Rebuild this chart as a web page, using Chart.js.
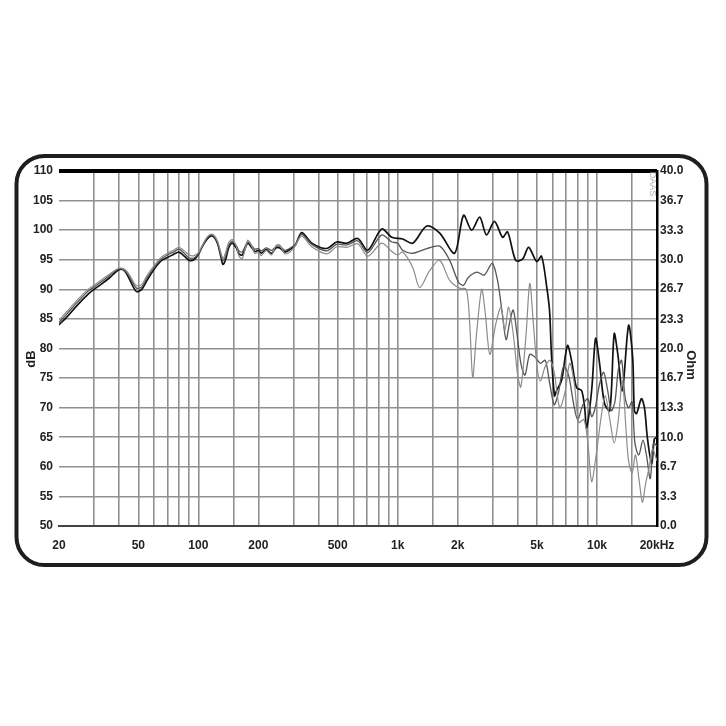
<!DOCTYPE html>
<html>
<head>
<meta charset="utf-8">
<title>Frequency response</title>
<script src="https://cdn.jsdelivr.net/npm/chart.js@4.4.0/dist/chart.umd.min.js"></script>
<style>
    html, body { margin: 0; padding: 0; background: #fff; }
    #wrap { width: 726px; height: 726px; }
</style>
</head>
<body>
<div id="wrap"><canvas id="respChart" width="726" height="726"></canvas></div>
<script>
// Eixo X (Hz) - linhas da grade e rótulos
const gridFreqs = [20, 30, 40, 50, 60, 70, 80, 90, 100, 150, 200, 300, 400, 500, 600, 700, 800, 900,
    1000, 1500, 2000, 3000, 4000, 5000, 6000, 7000, 8000, 9000, 10000, 15000, 20000];
const labelFreqs = [20, 50, 100, 200, 500, 1000, 2000, 5000, 10000, 20000];
const labelTexts = ['20', '50', '100', '200', '500', '1k', '2k', '5k', '10k', '20kHz'];

// Eixo direito (Ohm)
const ohmTicks = [0.0, 3.3, 6.7, 10.0, 13.3, 16.7, 20.0, 23.3, 26.7, 30.0, 33.3, 36.7, 40.0];

// Curva preta
const blackFreq = [20, 22, 25, 28, 30, 33, 36, 39, 41, 43, 45, 47, 49, 52, 55, 60, 65, 70, 75, 80, 85, 90, 95,
    100, 105, 110, 115, 120, 125, 130, 133, 137, 142, 148, 155, 160, 166, 172, 177, 184, 192, 200, 207, 219,
    233, 245, 256, 272, 290, 307, 330, 371, 441, 494, 556, 631, 708, 832, 934, 1060, 1190, 1400, 1625, 1930,
    2140, 2350, 2580, 2790, 3060, 3360, 3560, 3910, 4230, 4540, 4980, 5270, 5590, 5780, 5910, 6120, 6270,
    6640, 7110, 7450, 7890, 8370, 8670, 8870, 9400, 9840, 10300, 10900, 11600, 12200, 12700, 13400, 14400,
    15100, 15400, 15800, 16700, 17300, 17900, 18800, 19400, 20000];
const blackDb = [84.0, 85.4, 87.5, 89.2, 90.0, 91.0, 92.0, 93.1, 93.4, 93.0, 91.8, 90.5, 89.6, 90.0, 91.4, 93.4,
    94.8, 95.4, 95.9, 96.3, 95.6, 94.9, 95.0, 95.9, 97.3, 98.4, 99.0, 98.8, 97.7, 95.4, 94.2, 95.0, 97.0, 97.8,
    97.0, 96.0, 95.8, 97.0, 97.8, 97.2, 96.4, 96.6, 96.1, 96.7, 96.1, 97.0, 97.0, 96.3, 96.8, 97.5, 99.6, 97.8,
    96.9, 98.0, 97.8, 98.6, 96.6, 100.2, 98.8, 98.5, 97.8, 100.7, 99.5, 96.1, 102.5, 100.0, 102.2, 99.2, 101.5,
    98.8, 99.7, 94.9, 95.1, 97.1, 94.7, 95.6, 90.5, 86.4, 79.0, 72.0, 72.9, 74.6, 80.5, 78.0, 73.4, 72.9, 70.0,
    66.6, 72.9, 81.7, 77.5, 70.7, 69.5, 82.5, 79.2, 72.9, 83.9, 78.5, 69.5, 69.0, 71.5, 70.0, 64.9, 60.5, 64.7,
    65.0];

// Curva cinza escura
const midFreq = [20, 22, 25, 28, 30, 33, 36, 39, 41, 43, 45, 47, 49, 52, 55, 60, 65, 70, 75, 80, 85, 90, 95,
    100, 105, 110, 115, 120, 125, 130, 133, 137, 142, 148, 155, 160, 166, 172, 177, 184, 192, 200, 207, 219,
    233, 245, 256, 272, 290, 307, 330, 371, 441, 494, 556, 631, 708, 832, 934, 1000, 1060, 1190, 1400, 1625,
    1824, 2020, 2140, 2260, 2500, 2720, 2980, 3170, 3360, 3500, 3650, 3800, 3950, 4150, 4350, 4600, 4900,
    5200, 5500, 5800, 6100, 6400, 6800, 7200, 7600, 8000, 8500, 9000, 9400, 9800, 10300, 10800, 11300,
    11800, 12300, 12800, 13300, 13800, 14400, 15000, 15500, 16200, 17000, 17700, 18500, 19200, 20000];
const midDb = [84.4, 85.9, 88.0, 89.7, 90.4, 91.4, 92.4, 93.3, 93.5, 93.1, 92.2, 91.1, 90.2, 90.4, 91.8, 93.7,
    95.1, 95.8, 96.3, 96.8, 96.1, 95.3, 95.3, 96.0, 97.4, 98.6, 99.2, 99.0, 97.9, 95.8, 94.8, 95.6, 97.4, 98.1,
    97.4, 96.5, 96.3, 97.3, 98.0, 97.5, 96.8, 96.9, 96.5, 97.0, 96.6, 97.2, 97.3, 96.6, 97.0, 97.6, 99.3, 97.6,
    96.5, 97.6, 97.5, 98.2, 96.2, 99.2, 98.0, 97.8, 96.6, 96.1, 96.9, 97.3, 94.9, 91.2, 90.7, 92.0, 92.9, 92.4,
    94.4, 91.5, 85.5, 81.5, 84.5, 86.5, 83.0, 77.5, 75.5, 79.0, 78.5, 77.5, 78.0, 74.0, 70.5, 72.5, 77.0, 75.5,
    71.0, 68.0, 70.5, 71.5, 68.5, 70.0, 74.0, 76.0, 73.0, 69.5, 71.0, 76.5, 78.0, 72.0, 70.0, 71.0, 64.0, 62.0,
    64.5, 62.0, 58.0, 64.0, 63.5];

// Curva cinza clara
const lightFreq = [20, 22, 25, 28, 30, 33, 36, 39, 41, 43, 45, 47, 49, 52, 55, 60, 65, 70, 75, 80, 85, 90, 95,
    100, 105, 110, 115, 120, 125, 130, 133, 137, 142, 148, 155, 160, 166, 172, 177, 184, 192, 200, 207, 219,
    233, 245, 256, 272, 290, 307, 330, 371, 441, 494, 556, 631, 708, 832, 934, 1000, 1060, 1190, 1290, 1450,
    1625, 1824, 2040, 2210, 2300, 2380, 2480, 2640, 2750, 2900, 3100, 3300, 3450, 3600, 3800, 4000, 4150,
    4400, 4600, 4800, 5000, 5200, 5500, 5800, 6100, 6500, 6900, 7300, 7700, 8100, 8600, 9000, 9400, 9900,
    10500, 11000, 11600, 12200, 12800, 13400, 14000, 14400, 15000, 15600, 16300, 16900, 17500, 18300,
    19000, 20000];
const lightDb = [84.8, 86.3, 88.4, 90.0, 90.7, 91.7, 92.6, 93.4, 93.6, 93.3, 92.5, 91.4, 90.6, 90.8, 92.2, 94.0,
    95.4, 96.1, 96.6, 97.1, 96.5, 95.8, 95.7, 96.2, 97.5, 98.7, 99.3, 99.1, 98.1, 96.1, 95.2, 96.2, 97.9, 98.4,
    97.3, 95.6, 95.2, 96.9, 98.3, 97.6, 96.1, 96.2, 95.7, 96.6, 95.8, 97.4, 97.5, 96.0, 96.4, 97.4, 99.0, 97.2,
    96.0, 97.2, 97.1, 97.7, 95.6, 97.8, 96.4, 95.8, 96.3, 93.7, 90.3, 93.2, 94.9, 91.5, 90.2, 90.0, 84.0, 75.1,
    82.0, 90.0, 86.0, 79.0, 84.0, 87.0, 83.0, 87.0, 82.5, 75.5, 73.5, 82.0, 91.0, 84.0, 77.0, 74.5, 77.0, 78.0,
    76.0, 70.0, 72.5, 77.5, 74.0, 67.5, 68.0, 64.0, 57.5, 62.0, 68.5, 72.0, 68.0, 64.0, 68.0, 74.5, 66.0, 61.0,
    59.0, 62.0, 57.5, 54.0, 57.0, 60.0, 63.0, 61.0];

function pontos(freqs, valores) {
    return freqs.map(function (f, i) { return { x: f, y: valores[i] }; });
}

const fonteEixo = { family: '"Liberation Sans", Arial, sans-serif', size: 12, weight: 'bold' };
const corGrade = '#909090';

// Moldura arredondada e textos extras
const molduraPlugin = {
    id: 'moldura',
    beforeDraw: function (chart) {
        const ctx = chart.ctx;
        ctx.save();
        ctx.fillStyle = '#fff';
        ctx.fillRect(0, 0, chart.width, chart.height);
        ctx.restore();
    },
    afterDraw: function (chart) {
        const ctx = chart.ctx;
        ctx.save();
        ctx.strokeStyle = '#1e1e1e';
        ctx.lineWidth = 4;
        ctx.beginPath();
        ctx.roundRect(16.5, 156, 690, 409, 28);
        ctx.stroke();

        ctx.fillStyle = '#222';
        ctx.font = 'bold 13px "Liberation Sans", Arial, sans-serif';
        ctx.textAlign = 'center';
        ctx.textBaseline = 'middle';

        ctx.save();
        ctx.translate(31, 359);
        ctx.rotate(-Math.PI / 2);
        ctx.fillText('dB', 0, 0);
        ctx.restore();

        ctx.save();
        ctx.translate(691, 365);
        ctx.rotate(Math.PI / 2);
        ctx.fillText('Ohm', 0, 0);
        ctx.restore();

        ctx.save();
        ctx.fillStyle = '#b0b0b0';
        ctx.font = '9px "Liberation Sans", Arial, sans-serif';
        ctx.translate(652, 184);
        ctx.rotate(Math.PI / 2);
        ctx.fillText('DAAS', 0, 0);
        ctx.restore();

        ctx.restore();
    }
};

const ctxResp = document.getElementById('respChart').getContext('2d');
new Chart(ctxResp, {
    type: 'line',
    data: {
        datasets: [
            {
                label: 'Claro',
                data: pontos(lightFreq, lightDb),
                borderColor: '#8c8c8c',
                borderWidth: 1.2,
                pointRadius: 0,
                tension: 0.3,
                yAxisID: 'y'
            },
            {
                label: 'Médio',
                data: pontos(midFreq, midDb),
                borderColor: '#555555',
                borderWidth: 1.3,
                pointRadius: 0,
                tension: 0.3,
                yAxisID: 'y'
            },
            {
                label: 'Preto',
                data: pontos(blackFreq, blackDb),
                borderColor: '#111111',
                borderWidth: 1.7,
                pointRadius: 0,
                tension: 0.3,
                yAxisID: 'y'
            }
        ]
    },
    options: {
        responsive: false,
        animation: false,
        devicePixelRatio: 1,
        layout: { padding: { top: 171, left: 0, right: 0, bottom: 0 } },
        plugins: {
            legend: { display: false },
            tooltip: { enabled: false }
        },
        scales: {
            x: {
                type: 'logarithmic',
                position: 'bottom',
                min: 20,
                max: 20000,
                afterBuildTicks: function (axis) {
                    axis.ticks = gridFreqs.map(function (v) { return { value: v }; });
                },
                afterFit: function (axis) { axis.height = 200; },
                ticks: {
                    autoSkip: false,
                    maxRotation: 0,
                    padding: 12,
                    color: '#222',
                    font: fonteEixo,
                    callback: function (value) {
                        const i = labelFreqs.indexOf(value);
                        return i >= 0 ? labelTexts[i] : '';
                    }
                },
                grid: {
                    drawTicks: false,
                    lineWidth: 1.6,
                    color: function (c) {
                        if (c.tick && (c.tick.value === 20 || c.tick.value === 20000)) return 'rgba(0,0,0,0)';
                        return corGrade;
                    }
                },
                border: { display: true, color: '#444', width: 2 }
            },
            y: {
                type: 'linear',
                position: 'left',
                min: 50,
                max: 110,
                afterFit: function (axis) { axis.width = 59; },
                ticks: {
                    stepSize: 5,
                    padding: 6,
                    color: '#222',
                    font: fonteEixo
                },
                grid: {
                    drawTicks: false,
                    lineWidth: function (c) { return c.tick && c.tick.value === 110 ? 4 : 1.6; },
                    color: function (c) { return c.tick && c.tick.value === 110 ? '#000' : corGrade; }
                },
                border: { display: false }
            },
            y2: {
                type: 'linear',
                position: 'right',
                min: 0,
                max: 40,
                afterBuildTicks: function (axis) {
                    axis.ticks = ohmTicks.map(function (v) { return { value: v }; });
                },
                afterFit: function (axis) { axis.width = 69; },
                ticks: {
                    padding: 3,
                    color: '#222',
                    font: fonteEixo,
                    callback: function (value) { return Number(value).toFixed(1); }
                },
                grid: { display: false, drawTicks: false },
                border: { display: true, color: '#000', width: 2.5 }
            }
        }
    },
    plugins: [molduraPlugin]
});
</script>
</body>
</html>
